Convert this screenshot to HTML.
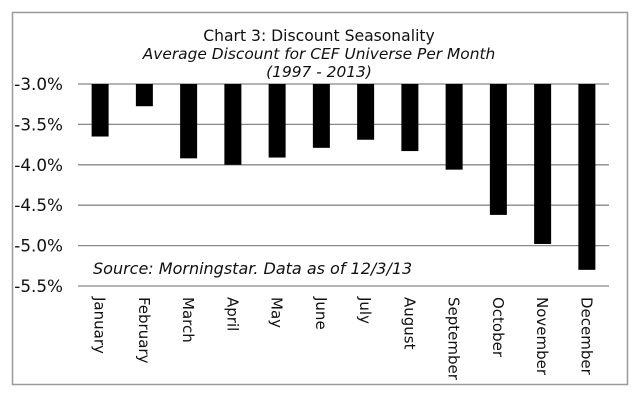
<!DOCTYPE html>
<html><head><meta charset="utf-8"><style>
html,body{margin:0;padding:0;background:#fff;width:640px;height:403px;overflow:hidden}
svg text{font-family:"DejaVu Sans","Liberation Sans",sans-serif;fill:#111}
</style></head><body>
<svg id="chart" width="640" height="403">
<rect x="12.5" y="12.5" width="615" height="372" fill="#fff" stroke="#999" stroke-width="1.5"/>
<text x="319" y="41" font-size="15.6" text-anchor="middle">Chart 3: Discount Seasonality</text>
<text x="319" y="59" font-size="15.4" font-style="italic" text-anchor="middle">Average Discount for CEF Universe Per Month</text>
<text x="319" y="77" font-size="15.4" font-style="italic" text-anchor="middle">(1997 - 2013)</text>
<g id="grid"></g><g id="bars"></g><g id="xlabels"></g>
<text x="93" y="274" font-size="16" font-style="italic">Source: Morningstar. Data as of 12/3/13</text>
</svg>
<script>
const months = ["January","February","March","April","May","June","July","August","September","October","November","December"];
const discounts = [-3.65,-3.275,-3.92,-4.0,-3.91,-3.79,-3.69,-3.83,-4.06,-4.62,-4.98,-5.30];
const yTicks = [-3.0,-3.5,-4.0,-4.5,-5.0,-5.5];
const yTickLabels = ["-3.0%","-3.5%","-4.0%","-4.5%","-5.0%","-5.5%"];
const NS="http://www.w3.org/2000/svg";
const top0=84, bot=286, yMax=-3.0, yMin=-5.5, left=78, right=609;
function y(v){return top0+(yMax-v)/(yMax-yMin)*(bot-top0);}
const step=(right-left)/months.length;
function xc(i){return left+step*(i+0.5);}
const grid=document.getElementById('grid');
yTicks.forEach((t,i)=>{
  const l=document.createElementNS(NS,'line');
  l.setAttribute('x1',left);l.setAttribute('x2',right);
  l.setAttribute('y1',y(t));l.setAttribute('y2',y(t));
  l.setAttribute('stroke','#888');l.setAttribute('stroke-width','1.3');
  
  
  grid.appendChild(l);
  const tx=document.createElementNS(NS,'text');
  tx.setAttribute('x',63);tx.setAttribute('y',y(t)+6);
  tx.setAttribute('text-anchor','end');tx.setAttribute('font-size','16.8');
  tx.textContent=yTickLabels[i];
  
  
  grid.appendChild(tx);
});
const bars=document.getElementById('bars'), xl=document.getElementById('xlabels');
months.forEach((m,i)=>{
  const r=document.createElementNS(NS,'rect');
  const y0=y(yMax), y1=y(discounts[i]);
  r.setAttribute('x',xc(i)-8.5);r.setAttribute('width',17);
  r.setAttribute('y',Math.min(y0,y1));r.setAttribute('height',Math.abs(y1-y0));
  r.setAttribute('fill','#000');
  
  
  bars.appendChild(r);
  const t=document.createElementNS(NS,'text');
  const lx=xc(i)-5.5;
  t.setAttribute('x',lx);t.setAttribute('y',297);
  t.setAttribute('font-size','15');
  t.setAttribute('transform','rotate(90 '+lx+' 297)');
  t.textContent=m;
  
  
  xl.appendChild(t);
});
</script>
</body></html>
